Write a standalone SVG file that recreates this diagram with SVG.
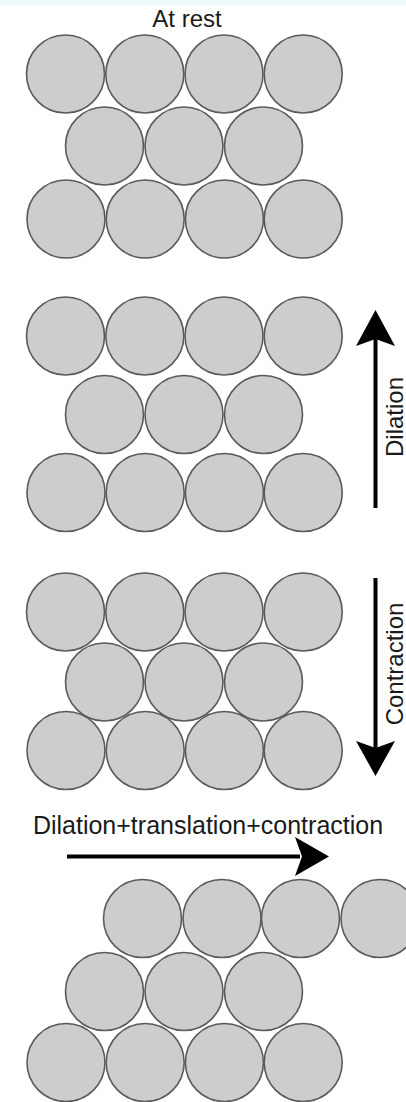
<svg xmlns="http://www.w3.org/2000/svg" width="406" height="1102" viewBox="0 0 406 1102">
<style>
.c{fill:#cdcdcd;stroke:#5a5a5a;stroke-width:1.6}
.t{font-family:"Liberation Sans",Arial,sans-serif;font-size:25px;fill:#1a1a1a}
.ln{stroke:#000;stroke-width:4;fill:none}
.hd{fill:#000}
</style>
<defs>
<circle id="b" class="c" r="39"/>
</defs>
<rect x="0" y="0" width="406" height="1102" fill="#ffffff"/>
<rect x="0" y="0" width="406" height="5" fill="#effbfb"/>
<g id="panel-rest">
<text class="t" x="187" y="27" text-anchor="middle" style="font-size:24px">At rest</text>
<use href="#b" x="65.5" y="74"/><use href="#b" x="144.8" y="74"/><use href="#b" x="224" y="74"/><use href="#b" x="303.2" y="74"/>
<use href="#b" x="104.5" y="146"/><use href="#b" x="184" y="146"/><use href="#b" x="263.5" y="146"/>
<use href="#b" x="66" y="219"/><use href="#b" x="145.2" y="219"/><use href="#b" x="224.4" y="219"/><use href="#b" x="303.2" y="219"/>
</g>
<g id="panel-dilation">
<use href="#b" x="65.5" y="336"/><use href="#b" x="144.8" y="336"/><use href="#b" x="224" y="336"/><use href="#b" x="303.2" y="336"/>
<use href="#b" x="104.5" y="414.5"/><use href="#b" x="184" y="414.5"/><use href="#b" x="263.5" y="414.5"/>
<use href="#b" x="66" y="492.5"/><use href="#b" x="145.2" y="492.5"/><use href="#b" x="224.4" y="492.5"/><use href="#b" x="303.2" y="492.5"/>
<text class="t" transform="translate(403,417) rotate(-90)" text-anchor="middle" style="font-size:24px">Dilation</text>
</g>
<g id="panel-contraction">
<use href="#b" x="65.5" y="612"/><use href="#b" x="144.8" y="612"/><use href="#b" x="224" y="612"/><use href="#b" x="303.2" y="612"/>
<use href="#b" x="104.5" y="682"/><use href="#b" x="184" y="682"/><use href="#b" x="263.5" y="682"/>
<use href="#b" x="66" y="750.5"/><use href="#b" x="145.2" y="750.5"/><use href="#b" x="224.4" y="750.5"/><use href="#b" x="303.2" y="750.5"/>
<text class="t" transform="translate(403,664) rotate(-90)" text-anchor="middle" style="font-size:24px">Contraction</text>
</g>
<g id="panel-translation">
<text class="t" x="208" y="834" text-anchor="middle">Dilation+translation+contraction</text>
<use href="#b" x="142.5" y="918.5"/><use href="#b" x="222" y="918.5"/><use href="#b" x="300.5" y="918.5"/><use href="#b" x="380" y="918.5"/>
<use href="#b" x="104.5" y="991.5"/><use href="#b" x="184" y="991.5"/><use href="#b" x="263.5" y="991.5"/>
<use href="#b" x="66" y="1062.5"/><use href="#b" x="145.2" y="1062.5"/><use href="#b" x="224.4" y="1062.5"/><use href="#b" x="303.2" y="1062.5"/>
</g>
<g id="connectors">
<line class="ln" x1="375.5" y1="508" x2="375.5" y2="338"/>
<path class="hd" d="M375.5,310 L395,346 L375.5,339 L356,346 Z"/>
<line class="ln" x1="375.5" y1="578" x2="375.5" y2="748"/>
<path class="hd" d="M375.5,776 L395,741 L375.5,748 L356,741 Z"/>
<line class="ln" x1="67" y1="856.5" x2="300" y2="856.5"/>
<path class="hd" d="M329,856.5 L295,837 L302,856.5 L295,876 Z"/>
</g>
</svg>
